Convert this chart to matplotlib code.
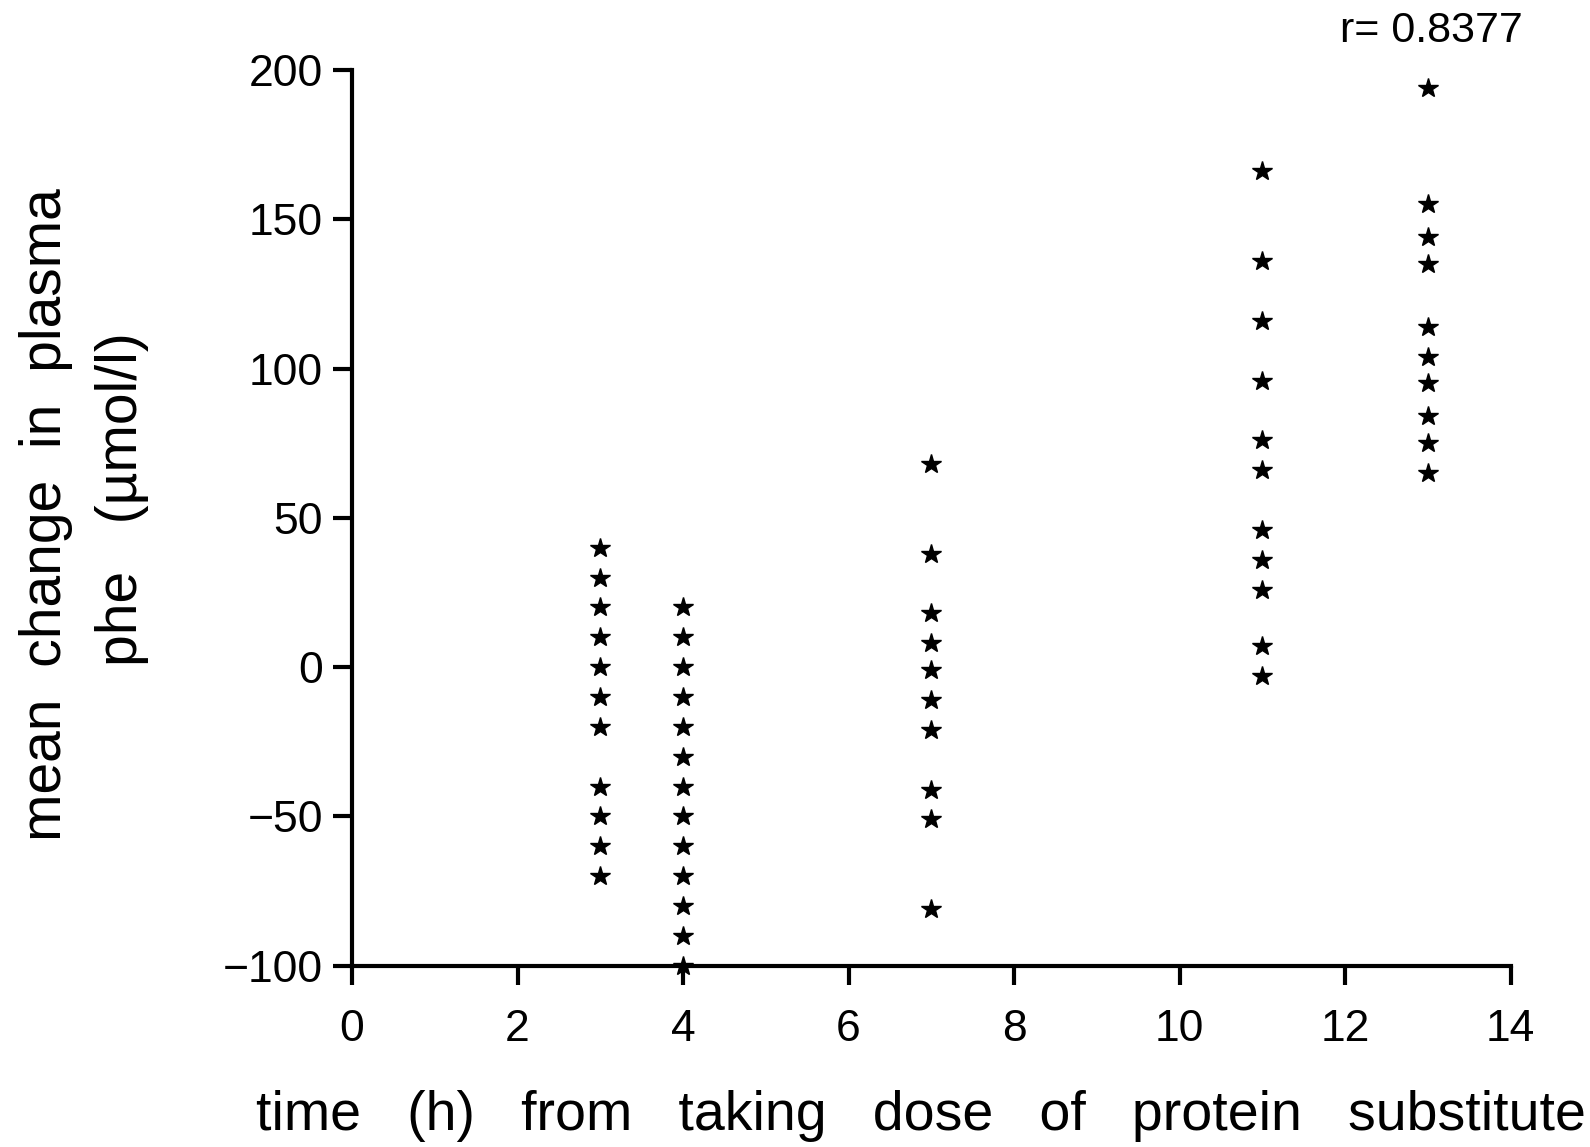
import numpy as np
import matplotlib.pyplot as plt

plt.rcParams['font.family'] = ['Liberation Sans', 'DejaVu Sans']

# hours after the dose, and the phe changes (umol/l)
hours = [3, 4, 7, 11, 13]
change_3h = [40, 30, 20, 10, 0, -10, -20, -40, -50, -60, -70]
change_4h = [20, 10, 0, -10, -20, -30, -40, -50, -60, -70, -80, -90, -100]
change_7h = [68, 38, 18, 8, -1, -11, -21, -41, -51, -81]
change_11h = [166, 136, 116, 96, 76, 66, 46, 36, 26, 7, -3]
change_13h = [194, 155, 144, 135, 114, 104, 95, 84, 75, 65]
r_value = 0.8377

groups = [change_3h, change_4h, change_7h, change_11h, change_13h]

fig = plt.figure(figsize=(15.9, 11.47), dpi=100)
ax = fig.add_axes([0.2214, 0.158, 0.7286, 0.781])

for h, vals in zip(hours, groups):
    ax.plot([h] * len(vals), vals, linestyle='none', marker='*',
            markersize=15, color='black', clip_on=False)

ax.set_xlim(0, 14)
ax.set_ylim(-100, 200)
ax.set_xticks(np.arange(0, 15, 2))
ax.set_yticks(np.arange(-100, 201, 50))
ax.set_yticklabels(['\u2212100', '\u221250', '0', '50', '100', '150', '200'])

for side in ['top', 'right']:
    ax.spines[side].set_visible(False)
for side in ['left', 'bottom']:
    ax.spines[side].set_linewidth(3)

ax.tick_params(axis='both', direction='out', length=14, width=3,
               labelsize=32)
ax.tick_params(axis='x', pad=17)
ax.tick_params(axis='y', pad=7)

fig.text(0.029, 0.551, 'mean  change  in  plasma', rotation=90,
         ha='center', va='center', fontsize=41)
fig.text(0.077, 0.565, 'phe   (\u00b5mol/l)', rotation=90,
         ha='center', va='center', fontsize=41)
fig.text(0.579, 0.027,
         'time   (h)   from   taking   dose   of   protein   substitute',
         ha='center', va='center', fontsize=40)
fig.text(0.9, 0.973, 'r= ' + str(r_value), ha='center', va='center',
         fontsize=31)

plt.savefig('out.png', dpi=100)
